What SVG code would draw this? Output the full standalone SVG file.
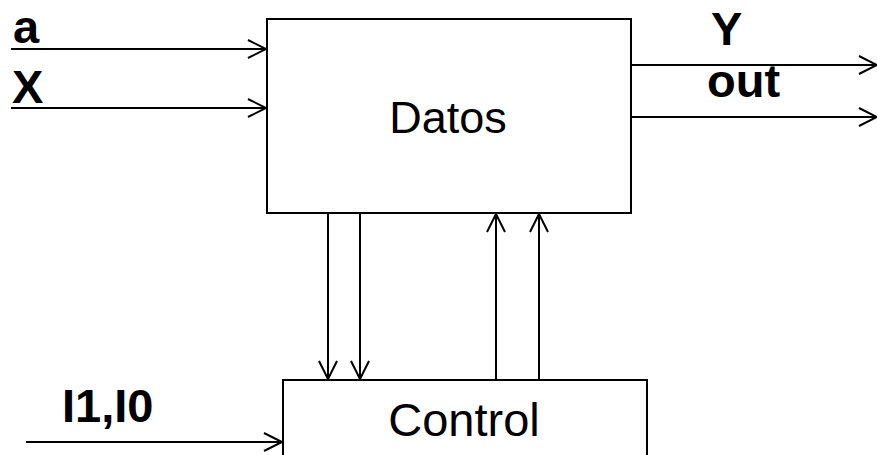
<svg xmlns="http://www.w3.org/2000/svg" width="877" height="455" viewBox="0 0 877 455">
  <style>
    .box { fill: #ffffff; stroke: #000000; stroke-width: 2; }
    .wire { fill: none; stroke: #000000; stroke-width: 2; marker-end: url(#arrow); }
    .title { font-family: "Liberation Sans", Arial, sans-serif; font-size: 45px; fill: #000000; }
    .sig { font-family: "Liberation Sans", Arial, sans-serif; font-size: 47px; font-weight: bold; fill: #000000; }
  </style>
  <defs>
    <!-- open V arrowhead, tip at the line end -->
    <marker id="arrow" markerUnits="userSpaceOnUse" viewBox="-20 -11 22 22" refX="0" refY="0" markerWidth="22" markerHeight="22" orient="auto" overflow="visible">
      <path d="M-18,-9 L0,0 L-18,9" fill="none" stroke="#000000" stroke-width="2"/>
    </marker>
  </defs>
  <rect width="877" height="455" fill="#ffffff"/>

  <g id="datos">
    <rect class="box" x="267" y="19" width="364" height="194"/>
    <text class="title" x="448" y="133" text-anchor="middle">Datos</text>
  </g>

  <g id="control">
    <rect class="box" x="283" y="380" width="364" height="90"/>
    <text class="title" x="464" y="436" text-anchor="middle" style="font-size:47px">Control</text>
  </g>

  <g id="connectors">
    <!-- inputs to Datos -->
    <line class="wire" x1="11" y1="49" x2="266" y2="49"/>
    <line class="wire" x1="11" y1="108" x2="266" y2="108"/>
    <!-- outputs of Datos -->
    <line class="wire" x1="631" y1="65" x2="877" y2="65"/>
    <line class="wire" x1="631" y1="117" x2="877" y2="117"/>
    <!-- Datos to Control -->
    <line class="wire" x1="328" y1="213" x2="328" y2="379"/>
    <line class="wire" x1="360" y1="213" x2="360" y2="379"/>
    <!-- Control to Datos -->
    <line class="wire" x1="496" y1="380" x2="496" y2="214"/>
    <line class="wire" x1="539" y1="380" x2="539" y2="214"/>
    <!-- input to Control -->
    <line class="wire" x1="26" y1="442" x2="282" y2="442"/>
  </g>

  <g id="labels">
    <text class="sig" x="13" y="43">a</text>
    <text class="sig" x="12" y="103">X</text>
    <text class="sig" x="711" y="45">Y</text>
    <text class="sig" x="707" y="97">out</text>
    <text class="sig" x="62" y="422">I1,I0</text>
  </g>
</svg>
